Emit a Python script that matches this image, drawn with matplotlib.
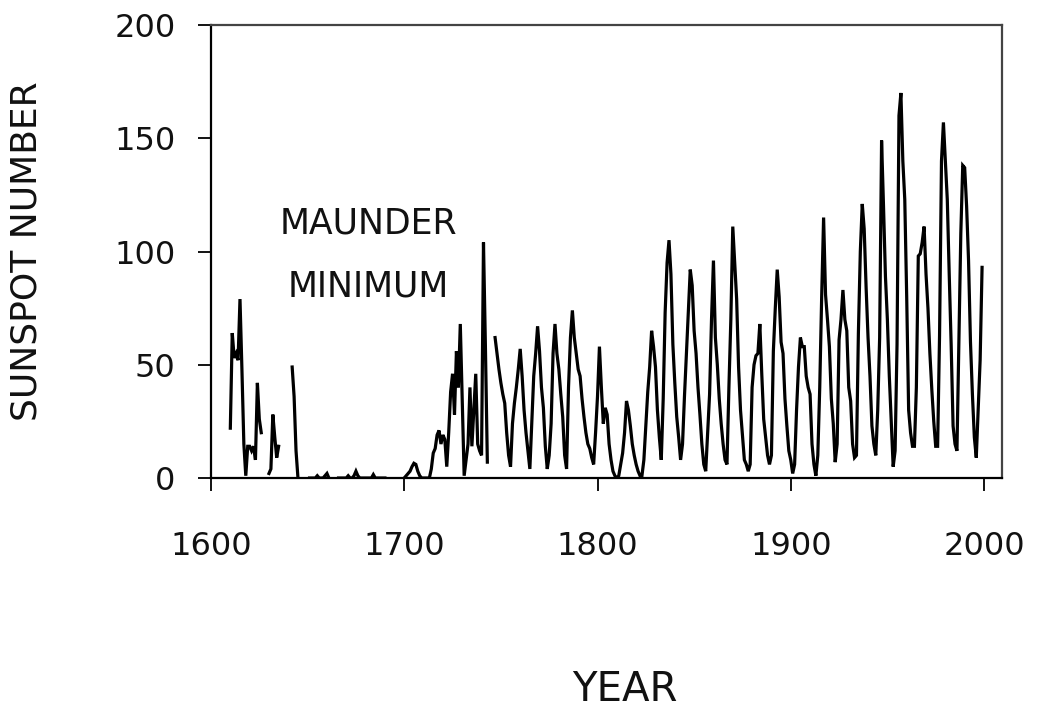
import numpy as np
import matplotlib
matplotlib.use("Agg")
import matplotlib.pyplot as plt

nan = np.nan

# yearly group sunspot numbers, 1610 - 1999
years = np.arange(1610, 2000)

spots_1600s = [22, 64, 53, 55, 52, 79, 48, 15, 1, 14,
               14, 12, 14, 8, 42, 26, 20, nan, nan, nan,
               2, 4, 28, 18, 9, 14, nan, nan, nan, nan,
               nan, nan, 49, 36, 12, 0, nan, nan, nan, nan,
               nan, 0, 0, 0, 0, 1, 0, 0, 0, 1,
               2, 0, nan, nan, nan, nan, 0, 0, 0, 0,
               0, 1, 0, 0, 1, 3, 1, 0, 0, 0,
               0, 0, 0, 0, 1.5, 0, 0, 0, 0, 0,
               0, nan, nan, nan, nan, nan, nan, nan, nan, nan]

spots_1700s = [0, 1, 2, 3, 5, 6.5, 6, 3, 1, 0,
               0, 0, 0, 0, 4, 11, 13, 19, 21, 15,
               19, 17, 5, 20, 38, 46, 28, 56, 40, 68,
               34, 1, 8, 15, 40, 14, 30, 46, 15, 12,
               10, 104, 58, 7, nan, nan, nan, 62, 55, 48,
               42, 37, 33, 20, 10, 5, 24, 33, 40, 48,
               57, 45, 30, 20, 12, 4, 25, 45, 55, 67,
               56, 40, 31, 14, 4, 10, 24, 55, 68, 55,
               48, 37, 27, 10, 4, 40, 62, 74, 62, 55,
               48, 45, 35, 27, 20, 15, 13, 9, 6, 20]

spots_1800s = [36, 58, 40, 24, 31, 28, 15, 8, 3, 1,
               0, 1, 6, 11, 20, 34, 30, 23, 15, 10,
               6, 3, 1, 1, 8, 23, 38, 49, 65, 58,
               49, 30, 18, 8, 35, 73, 95, 105, 90, 59,
               42, 27, 18, 8, 15, 36, 55, 74, 92, 85,
               65, 55, 40, 28, 15, 6, 3, 20, 37, 70,
               96, 62, 50, 35, 24, 15, 8, 6, 40, 70,
               111, 95, 79, 49, 30, 19, 8, 6, 3, 6,
               40, 50, 54, 55, 68, 46, 26, 18, 10, 6,
               10, 56, 75, 92, 80, 60, 55, 35, 23, 12]

spots_1900s = [8, 2, 6, 30, 49, 62, 58, 58, 45, 40,
               37, 15, 6, 1, 10, 40, 80, 115, 81, 70,
               58, 35, 24, 7, 15, 61, 70, 83, 70, 65,
               40, 34, 15, 9, 10, 64, 100, 121, 110, 84,
               62, 45, 23, 15, 10, 30, 62, 149, 120, 89,
               70, 45, 25, 5, 12, 59, 160, 170, 140, 123,
               80, 30, 20, 14, 14, 40, 98, 99, 104, 111,
               90, 75, 55, 39, 25, 14, 14, 63, 140, 157,
               140, 123, 90, 59, 23, 15, 12, 60, 108, 138,
               137, 120, 96, 60, 37, 18, 9, 30, 52, 93]

spots = np.array(spots_1600s + spots_1700s + spots_1800s + spots_1900s, dtype=float)

x_ticks = [1600, 1700, 1800, 1900, 2000]
y_ticks = [0, 50, 100, 150, 200]

plt.rcParams['font.family'] = ['DejaVu Sans']

fig = plt.figure(figsize=(10.54, 7.10), dpi=100)
ax = fig.add_axes([211 / 1054, 232 / 710, 791 / 1054, 453 / 710])

ax.plot(years, spots, color='black', linewidth=2.3, solid_joinstyle='miter')

ax.set_xlim(1600, 1600 + 791 / 1.9325)
ax.set_ylim(0, 200)
ax.set_xticks(x_ticks)
ax.set_yticks(y_ticks)
ax.tick_params(axis='both', direction='out', length=9.5, width=1.3, color='black',
               labelsize=23, labelcolor='#111111')
ax.tick_params(axis='y', pad=16)
ax.tick_params(axis='x', pad=29)

for side in ['left', 'bottom']:
    ax.spines[side].set_linewidth(1.6)
    ax.spines[side].set_color('black')
for side in ['top', 'right']:
    ax.spines[side].set_linewidth(1.6)
    ax.spines[side].set_color('#444444')

ax.set_xlabel('YEAR', fontsize=29, color='#111111')
ax.xaxis.set_label_coords((625 - 211) / 791, (478 - 670) / 453)
ax.set_ylabel('SUNSPOT NUMBER', fontsize=26, color='#111111')
# label anchor is the right-hand edge of the rotated text
ax.yaxis.set_label_coords((44 - 211) / 791, 0.5)

ax.text(1681.5, 108, 'MAUNDER', fontsize=25, ha='center', va='baseline', color='#111111')
ax.text(1681.5, 80, 'MINIMUM', fontsize=25, ha='center', va='baseline', color='#111111')

fig.savefig('out.png', dpi=100, facecolor='white')
